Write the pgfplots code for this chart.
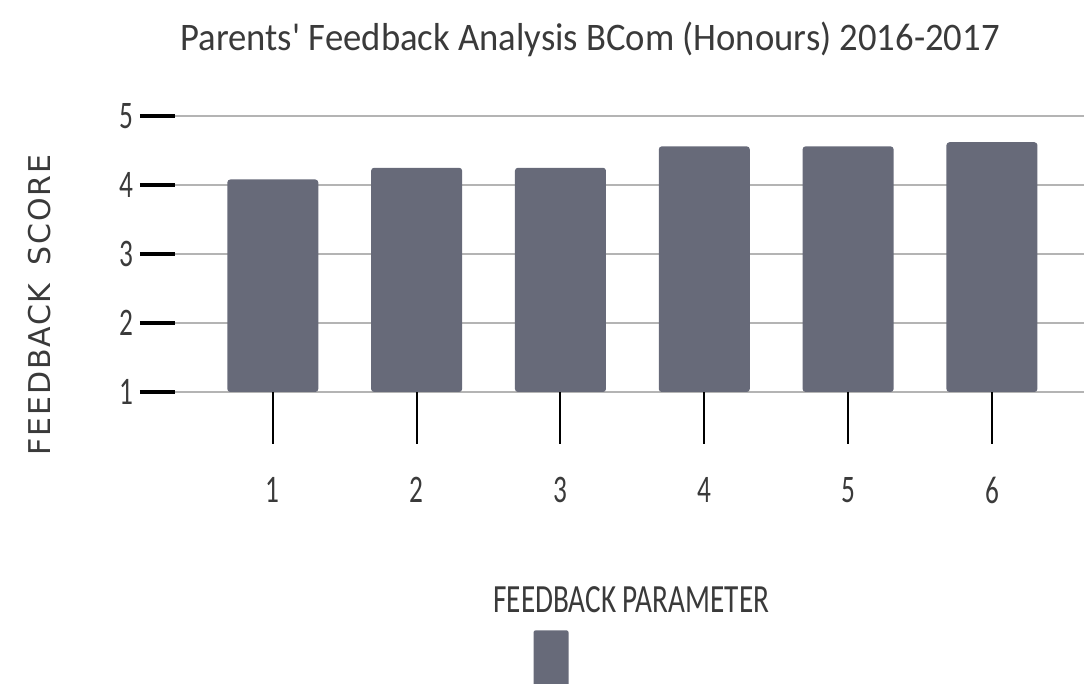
\documentclass[border=0pt]{standalone}
\usepackage{pgfplots}
\pgfplotsset{compat=1.18}
\usepackage{fontspec}
\setmainfont{Carlito}
\newfontfamily\titlefont[FakeStretch=0.94]{Carlito}
\newfontfamily\tickfont[FakeStretch=0.7]{Carlito}
\newfontfamily\labfont[FakeStretch=0.73]{Carlito}
\newfontfamily\scorefont[LetterSpace=6]{DejaVu Sans}
\definecolor{barcol}{HTML}{676A79}
\definecolor{gridcol}{HTML}{B4B4B4}
\definecolor{txtcol}{HTML}{3A3A3A}

\begin{document}
\begin{tikzpicture}
\begin{axis}[
  scale only axis,
  width=454.5pt, height=138pt,
  xmin=0.32, xmax=6.64,
  ymin=1, ymax=5,
  axis line style={draw=none},
  ybar, bar width=45.5pt,
  xtick={1,...,6}, ytick={1,...,5},
  xtick pos=bottom, ytick pos=left,
  tick align=outside,
  ymajorgrids,
  grid style={gridcol, line width=1.2pt},
  major tick length=17.5pt,
  ytick style={black, line width=1.8pt},
  xtick style={black, line width=1pt, /pgfplots/major tick length=26pt},
  /pgf/number format/assume math mode=true,
  ticklabel style={font=\tickfont\fontsize{19.5}{19.5}\selectfont, text=txtcol},
  xticklabel style={yshift=-21.5pt},
  title={Parents\textquotesingle{} Feedback Analysis BCom (Honours) 2016-2017},
  title style={at={(rel axis cs:0.4565,1)}, anchor=center, yshift=32.5pt,
    font=\titlefont\fontsize{19.5}{19.5}\selectfont, text=txtcol},
  xlabel={FEEDBACK PARAMETER},
  xlabel style={at={(rel axis cs:0.502,0)}, anchor=center, yshift=-104pt,
    font=\labfont\fontsize{20}{20}\selectfont, text=txtcol},
  ylabel={FEEDBACK\hspace{0.6em}SCORE},
  ylabel style={at={(rel axis cs:0,0.315)}, anchor=center, yshift=67.5pt,
    font=\scorefont\fontsize{15}{15}\selectfont, text=txtcol},
  legend image code/.code={\fill[barcol, rounded corners=1pt] (0pt,-14pt) rectangle (17.5pt,14pt);},
  legend style={at={(rel axis cs:0.394,0)}, anchor=north west, yshift=-119pt,
    draw=none, fill=none, inner sep=0pt, nodes={inner sep=0pt}},
]
\addplot[fill=barcol, draw=none, rounded corners=1.5pt] coordinates {
  (1,4.08) (2,4.25) (3,4.25) (4,4.56) (5,4.56) (6,4.62)
};
\addlegendentry{}
\coordinate (bl) at (rel axis cs:0,0);
\coordinate (tr) at (rel axis cs:1,1);
\end{axis}
\pgfresetboundingbox
\path ([xshift=-87.5pt,yshift=-146pt]bl) rectangle ([yshift=58pt]tr);
\end{tikzpicture}
\end{document}
